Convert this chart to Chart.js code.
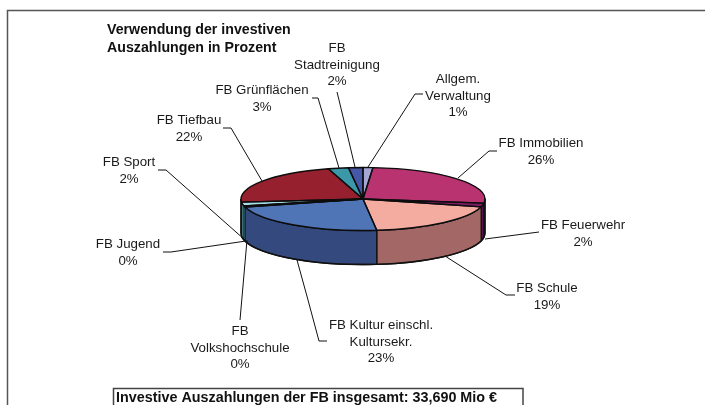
<!DOCTYPE html>
<html>
<head>
<meta charset="utf-8">
<style>
html,body{margin:0;padding:0;background:#fff;overflow:hidden}
#wrap{position:relative;width:705px;height:405px}
</style>
</head>
<body>
<div id="wrap"><canvas id="pie" width="705" height="405"></canvas></div>
<script src="https://cdn.jsdelivr.net/npm/chart.js@4/dist/chart.umd.min.js"></script>
<script>
const categories = [
  ["Allgem.", "Verwaltung"],
  ["FB Immobilien"],
  ["FB Feuerwehr"],
  ["FB Schule"],
  ["FB Kultur einschl.", "Kultursekr."],
  ["FB", "Volkshochschule"],
  ["FB Jugend"],
  ["FB Sport"],
  ["FB Tiefbau"],
  ["FB Grünflächen"],
  ["FB", "Stadtreinigung"]
]
const shares = [1.3, 25.8, 1.9, 19.2, 22.7, 0.3, 0.3, 1.9, 22.0, 2.7, 1.9]
const topColors = ["#A5A5D6", "#B8336F", "#7F1A66", "#F4ABA0", "#4F75B6", "#102028", "#102028", "#A6DDE6", "#96202E", "#3A98A8", "#4657A8"]
const sideColors = ["#7272A0", "#852450", "#55104A", "#A36866", "#344A7F", "#1FA8B8", "#2FB4C2", "#6CC5CF", "#6C1620", "#2A6E7A", "#323E78"]

const titleLines = ["Verwendung der investiven", "Auszahlungen in Prozent"]
const totalLine = "Investive Auszahlungen der FB insgesamt: 33,690 Mio €"

// label centre + first baseline, then the leader line, same order as categories
const labelPos = [
  {x:458, y:83,  line:[[423,94],[415,94],[368,167]]},
  {x:541, y:147, line:[[497,151],[489,151],[458,178]]},
  {x:583, y:229, line:[[539,232],[485,239]]},
  {x:547, y:292, line:[[515,295],[506,295],[445,256]]},
  {x:381, y:329, line:[[327,341],[319,341],[308,300],[297,260]]},
  {x:240, y:335, line:[[240,320],[247,240]]},
  {x:128, y:248, line:[[163,252],[171,252],[246,241]]},
  {x:129, y:166, line:[[158,170],[166,170],[245,240]]},
  {x:189, y:124, line:[[223,128],[231,128],[262,181]]},
  {x:262, y:94,  line:[[312,98],[318,98],[339,168]]},
  {x:337, y:52,  line:[[337,92],[339,100],[355,167]]}
]

const squash = 31.5 / 122
const depth = 34

function wedge(ctx, a){
  const ry = a.outerRadius * squash
  ctx.beginPath()
  ctx.moveTo(a.x, a.y)
  ctx.ellipse(a.x, a.y, a.outerRadius, ry, 0, a.startAngle, a.endAngle)
  ctx.closePath()
}

const pie3d = {
  id: "pie3d",
  beforeDatasetsDraw(chart){
    const ctx = chart.ctx
    const arcs = chart.getDatasetMeta(0).data
    const c = arcs[0]
    const cry = c.outerRadius * squash
    ctx.save()
    ctx.strokeStyle = "#111"
    ctx.lineWidth = 1.3
    arcs.forEach((a, i)=>{
      const from = Math.max(a.startAngle, 0)
      const to = Math.min(a.endAngle, Math.PI)
      if(to <= from) return
      const ry = a.outerRadius * squash
      ctx.fillStyle = sideColors[i]
      ctx.beginPath()
      ctx.ellipse(a.x, a.y, a.outerRadius, ry, 0, from, to)
      ctx.ellipse(a.x, a.y + depth, a.outerRadius, ry, 0, to, from, true)
      ctx.closePath()
      ctx.fill()
      // thin slivers on the rim get no dividers, they would turn black
      if(to - from > 0.1) ctx.stroke()
    })
    // rim outline
    ctx.beginPath()
    ctx.moveTo(c.x + c.outerRadius, c.y)
    ctx.lineTo(c.x + c.outerRadius, c.y + depth)
    ctx.ellipse(c.x, c.y + depth, c.outerRadius, cry, 0, 0, Math.PI)
    ctx.lineTo(c.x - c.outerRadius, c.y)
    ctx.stroke()
    ctx.restore()
    ctx.save()
    ctx.translate(c.x, c.y)
    ctx.scale(1, squash)
    ctx.translate(-c.x, -c.y)
  },
  afterDatasetsDraw(chart){
    const ctx = chart.ctx
    ctx.restore()
    ctx.save()
    ctx.strokeStyle = "#0d0d0d"
    ctx.lineWidth = 1.4
    ctx.lineJoin = "round"
    chart.getDatasetMeta(0).data.forEach(a=>{
      wedge(ctx, a)
      ctx.stroke()
    })
    ctx.restore()
  },
  afterDraw(chart){
    const ctx = chart.ctx
    ctx.save()

    // outer frame, open on the right and at the bottom
    ctx.strokeStyle = "#555"
    ctx.lineWidth = 1.5
    ctx.beginPath()
    ctx.moveTo(7.5, 405)
    ctx.lineTo(7.5, 10.5)
    ctx.lineTo(705, 10.5)
    ctx.stroke()

    // leader lines
    ctx.strokeStyle = "#111"
    ctx.lineWidth = 1
    labelPos.forEach(p=>{
      ctx.beginPath()
      p.line.forEach((pt, k)=>{
        if(k===0) ctx.moveTo(pt[0], pt[1])
        else ctx.lineTo(pt[0], pt[1])
      })
      ctx.stroke()
    })

    // slice labels
    ctx.fillStyle = "#1a1a1a"
    ctx.textAlign = "center"
    ctx.textBaseline = "alphabetic"
    ctx.font = "13.3px 'Liberation Sans'"
    categories.forEach((lines, i)=>{
      const text = lines.concat(Math.round(shares[i]) + "%")
      text.forEach((t, k)=>{
        ctx.fillText(t, labelPos[i].x, labelPos[i].y + k * 16.5)
      })
    })

    // title
    ctx.fillStyle = "#111"
    ctx.textAlign = "left"
    ctx.font = "bold 14.2px 'Liberation Sans'"
    titleLines.forEach((t, k)=>{
      ctx.fillText(t, 107, 34 + k * 18)
    })

    // box with the total
    ctx.strokeStyle = "#444"
    ctx.lineWidth = 1.5
    ctx.beginPath()
    ctx.moveTo(113.5, 405)
    ctx.lineTo(113.5, 388.5)
    ctx.lineTo(523, 388.5)
    ctx.lineTo(523, 405)
    ctx.stroke()
    ctx.fillStyle = "#111"
    ctx.font = "bold 14.35px 'Liberation Sans'"
    ctx.fillText(totalLine, 116, 402)

    ctx.restore()
  }
}

new Chart(document.getElementById("pie"), {
  type: "pie",
  data: {
    labels: categories.map(c=>c.join(" ")),
    datasets: [{
      data: shares,
      backgroundColor: topColors,
      borderWidth: 0
    }]
  },
  options: {
    responsive: false,
    animation: false,
    layout: {padding: {left: 241, right: 220, top: 77, bottom: 84}},
    plugins: {legend: {display: false}, tooltip: {enabled: false}}
  },
  plugins: [pie3d]
})
</script>
</body>
</html>
